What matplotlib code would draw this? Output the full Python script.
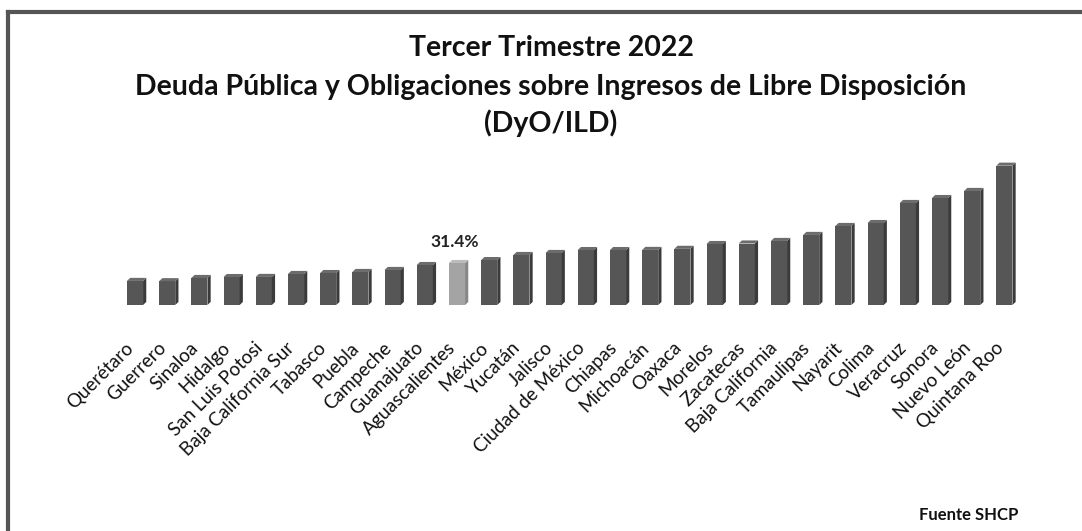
import numpy as np
import matplotlib
matplotlib.use("Agg")
import matplotlib.pyplot as plt
from matplotlib.patches import Polygon
from matplotlib.lines import Line2D

estados = ["Querétaro", "Guerrero", "Sinaloa", "Hidalgo", "San Luis Potosi",
           "Baja California Sur", "Tabasco", "Puebla", "Campeche", "Guanajuato",
           "Aguascalientes", "México", "Yucatán", "Jalisco", "Ciudad de México",
           "Chiapas", "Michoacán", "Oaxaca", "Morelos", "Zacatecas",
           "Baja California", "Tamaulipas", "Nayarit", "Colima", "Veracruz",
           "Sonora", "Nuevo León", "Quintana Roo"]
valores = [18.0, 17.8, 20.2, 20.9, 21.0, 23.2, 23.9, 24.7, 26.2, 29.9,
           31.4, 33.6, 37.4, 38.9, 41.1, 41.1, 41.2, 42.0, 45.6, 46.0,
           47.9, 52.4, 59.1, 61.3, 76.3, 80.0, 85.3, 104.2]
destacado = "Aguascalientes"
etiqueta = "31.4%"

W, H = 1082, 531
fig = plt.figure(figsize=(W / 100, H / 100), dpi=100)
# ejes colocados en pixeles: barra 0 en x=135, base en y=305
ax = fig.add_axes([100 / W, (H - 305) / H, 940 / W, 165 / H])
ax.set_xlim((100 - 135) / 32.2, (1040 - 135) / 32.2)
ax.set_ylim(0, 165 * 0.748)
ax.axis("off")

x = np.arange(len(estados))
ancho = 0.5
dx, dy = 0.1, 2.3
for xi, v, nombre in zip(x, valores, estados):
    if nombre == destacado:
        cf, cs, ct = "#a4a4a4", "#878787", "#bcbcbc"
    else:
        cf, cs, ct = "#565656", "#3b3b3b", "#6c6c6c"
    ax.bar(xi, v, width=ancho, color=cf, edgecolor="none", zorder=2)
    der = xi + ancho / 2
    izq = xi - ancho / 2
    ax.add_patch(Polygon([(der, 0), (der + dx, dy), (der + dx, v + dy), (der, v)],
                         closed=True, facecolor=cs, edgecolor="none", zorder=2))
    ax.add_patch(Polygon([(izq, v), (der, v), (der + dx, v + dy), (izq + dx, v + dy)],
                         closed=True, facecolor=ct, edgecolor="none", zorder=2))
    ax.annotate(nombre, xy=(xi, 0), xytext=(-4, -40), textcoords="offset pixels",
                rotation=45, ha="right", va="center", rotation_mode="anchor",
                fontsize=13.5, family="Lato", color="#111111", annotation_clip=False)

i = estados.index(destacado)
ax.annotate(etiqueta, xy=(x[i], valores[i] + dy), xytext=(-2, 18), textcoords="offset pixels",
            ha="center", va="center", fontsize=12.5, fontweight="bold", family="Lato",
            color="#222222")

titulo = ["Tercer Trimestre 2022",
          "Deuda Pública y Obligaciones sobre Ingresos de Libre Disposición",
          "(DyO/ILD)"]
for t, yp in zip(titulo, [48, 87, 123]):
    fig.text(551 / W, 1 - yp / H, t, ha="center", va="center", fontsize=20.5,
             fontweight="bold", family="Lato", color="#111111")

fig.text(1018 / W, 1 - 515 / H, "Fuente SHCP", ha="right", va="center",
         fontsize=12, fontweight="bold", family="Lato", color="#111111")

# marco (solo arriba e izquierda visibles)
fig.add_artist(Line2D([8 / W, 1], [1 - 12 / H, 1 - 12 / H], color="#555555", lw=3,
                      transform=fig.transFigure))
fig.add_artist(Line2D([8 / W, 8 / W], [1 - 12 / H, 0], color="#555555", lw=3,
                      transform=fig.transFigure))

fig.savefig("out.png", dpi=100, facecolor="white")
